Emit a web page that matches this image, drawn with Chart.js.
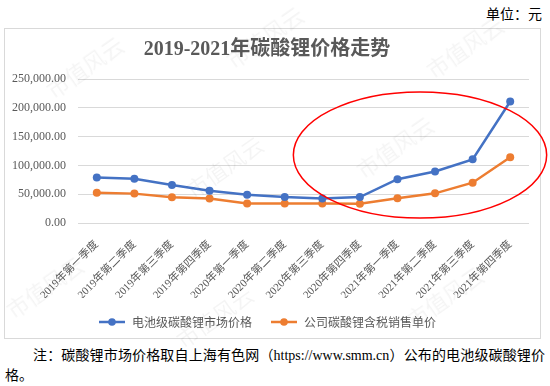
<!DOCTYPE html>
<html>
<head>
<meta charset="utf-8">
<script src="https://cdn.jsdelivr.net/npm/chart.js@4"></script>
<style>
  html, body { margin: 0; padding: 0; background: #fff; }
  body { width: 550px; height: 386px; position: relative; overflow: hidden;
         font-family: "Liberation Serif", "Noto Sans CJK SC", serif; }
  #unit { position: absolute; right: 8px; top: 3px; font-size: 14px; color: #000; }
  #frame { position: absolute; left: 4px; top: 28px; width: 535px; height: 309px;
           border: 1px solid #d9d9d9; }
  #wrap { position: absolute; left: 5px; top: 29px; width: 545px; height: 309px; }
  #note { position: absolute; left: 5px; top: 346px; width: 540px; margin: 0;
          font-size: 14px; line-height: 20px; text-indent: 28px; text-align: justify;
          color: #000; }
  .wm { position: absolute; font-size: 22px; color: rgba(0,0,0,0.045);
        transform: rotate(-35deg); white-space: nowrap; font-family: "Noto Sans CJK SC"; }
</style>
</head>
<body>
<div id="unit">单位：元</div>
<div id="frame"></div>
<div id="wrap"><canvas id="priceChart" width="545" height="309"></canvas></div>
<p id="note">注：碳酸锂市场价格取自上海有色网（https://www.smm.cn）公布的电池级碳酸锂价格。</p>
<div class="wm" style="left:40px;top:50px">市值风云</div>
<div class="wm" style="left:220px;top:20px">市值风云</div>
<div class="wm" style="left:420px;top:30px">市值风云</div>
<div class="wm" style="left:180px;top:150px">市值风云</div>
<div class="wm" style="left:350px;top:130px">市值风云</div>
<div class="wm" style="left:0px;top:270px">市值风云</div>
<div class="wm" style="left:170px;top:300px">市值风云</div>
<div class="wm" style="left:400px;top:280px">市值风云</div>
<script>
const quarters = [
    '2019年第一季度', '2019年第二季度', '2019年第三季度', '2019年第四季度',
    '2020年第一季度', '2020年第二季度', '2020年第三季度', '2020年第四季度',
    '2021年第一季度', '2021年第二季度', '2021年第三季度', '2021年第四季度'
];
const marketPrice = [79000, 77000, 66000, 56000, 49000, 45000, 42500, 45000, 76000, 89500, 110500, 211000];
const companyPrice = [52500, 51000, 44500, 42500, 34000, 34000, 34000, 33500, 43000, 51500, 70000, 114000];
const yTicks = [0, 50000, 100000, 150000, 200000, 250000];

const blue = '#4472C4';
const orange = '#ED7D31';
const grey = '#595959';

// 图例：线段 + 圆点
function legendMark(color) {
    const c = document.createElement('canvas');
    c.width = 28; c.height = 10;
    const g = c.getContext('2d');
    g.strokeStyle = color;
    g.lineWidth = 2.5;
    g.beginPath(); g.moveTo(1, 5); g.lineTo(27, 5); g.stroke();
    g.fillStyle = color;
    g.beginPath(); g.arc(14, 5, 3.8, 0, Math.PI * 2); g.fill();
    return c;
}

// 红色椭圆标注
const ellipsePlugin = {
    id: 'ellipse',
    afterDatasetsDraw(chart) {
        const { ctx, scales: { x, y } } = chart;
        const cx = x.getPixelForValue(8.6);
        const cy = y.getPixelForValue(118000);
        const rx = x.getPixelForValue(8.6 + 3.37) - cx;
        const ry = cy - y.getPixelForValue(118000 + 109500);
        ctx.save();
        ctx.strokeStyle = '#ff0000';
        ctx.lineWidth = 1.5;
        ctx.beginPath();
        ctx.ellipse(cx, cy, rx, ry, 0, 0, Math.PI * 2);
        ctx.stroke();
        ctx.restore();
    }
};

const ctx = document.getElementById('priceChart').getContext('2d');
new Chart(ctx, {
    type: 'line',
    data: {
        labels: quarters,
        datasets: [{
            label: '电池级碳酸锂市场价格',
            data: marketPrice,
            borderColor: blue,
            backgroundColor: blue,
            borderWidth: 2.5,
            pointRadius: 4,
            pointBackgroundColor: blue,
            pointBorderWidth: 0,
            tension: 0
        }, {
            label: '公司碳酸锂含税销售单价',
            data: companyPrice,
            borderColor: orange,
            backgroundColor: orange,
            borderWidth: 2.5,
            pointRadius: 4,
            pointBackgroundColor: orange,
            pointBorderWidth: 0,
            tension: 0
        }]
    },
    options: {
        responsive: false,
        animation: false,
        layout: { padding: { left: 0, right: 21, top: 0, bottom: 0 } },
        plugins: {
            title: {
                display: true,
                text: '2019-2021年碳酸锂价格走势',
                color: grey,
                font: { family: '"Liberation Serif", "Noto Sans CJK SC", serif', size: 20, weight: 'bold' },
                padding: { top: 9, bottom: 17 }
            },
            legend: {
                position: 'bottom',
                labels: {
                    usePointStyle: true,
                    pointStyleWidth: 28,
                    padding: 18,
                    color: grey,
                    font: { family: '"Noto Sans CJK SC", sans-serif', size: 12 },
                    generateLabels(chart) {
                        return chart.data.datasets.map((ds, i) => ({
                            text: ds.label,
                            fillStyle: ds.borderColor,
                            strokeStyle: ds.borderColor,
                            fontColor: grey,
                            lineWidth: 0,
                            pointStyle: legendMark(ds.borderColor),
                            datasetIndex: i,
                            hidden: false
                        }));
                    }
                }
            },
            tooltip: { enabled: false }
        },
        scales: {
            x: {
                offset: true,
                grid: { display: false },
                border: { display: false },
                ticks: {
                    color: grey,
                    autoSkip: false,
                    minRotation: 45,
                    maxRotation: 45,
                    padding: 7,
                    font: { family: '"Liberation Serif", "Noto Sans CJK SC", serif', size: 11 }
                },
                afterFit(scale) { scale.height = 75; }
            },
            y: {
                min: 0,
                max: 250000,
                afterBuildTicks(scale) { scale.ticks = yTicks.map(v => ({ value: v })); },
                grid: { color: '#d9d9d9', drawTicks: false },
                border: { display: false },
                ticks: {
                    color: grey,
                    padding: 12,
                    font: { family: '"Liberation Serif", serif', size: 12 },
                    callback: v => v.toLocaleString('en-US', { minimumFractionDigits: 2, maximumFractionDigits: 2 })
                },
                afterFit(scale) { scale.width = 73; }
            }
        }
    },
    plugins: [ellipsePlugin]
});
</script>
</body>
</html>
